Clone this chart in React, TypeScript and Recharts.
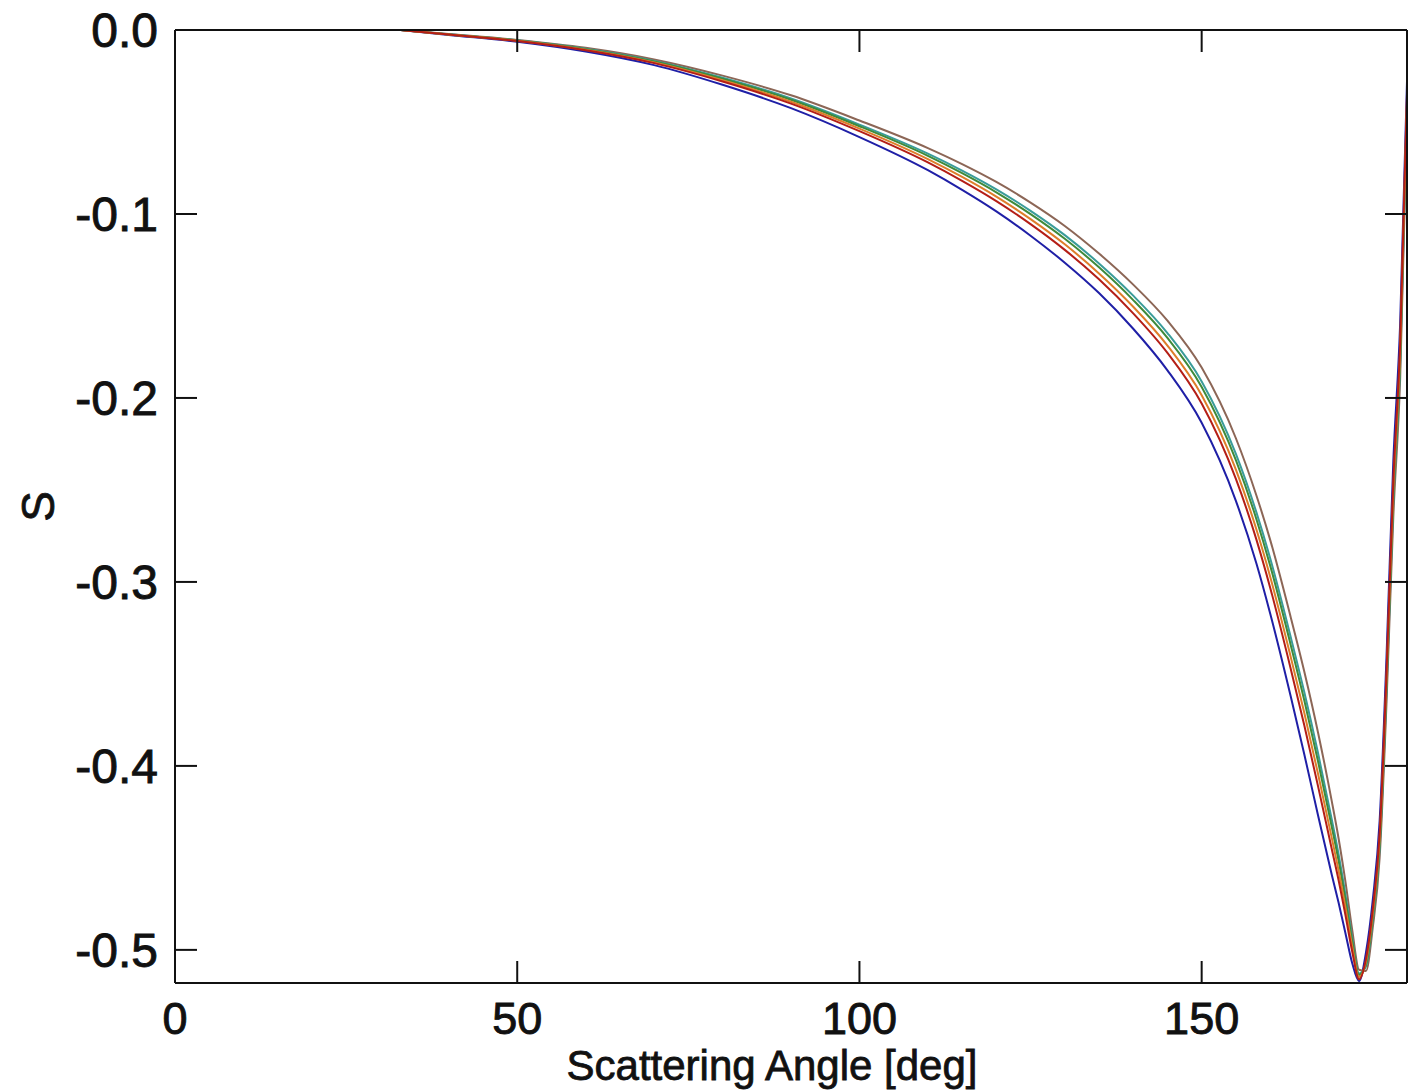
import { Line, LineChart, XAxis, YAxis } from "recharts";

// scattering angle grid [deg]
const angles = [33, 40, 50, 60, 70, 80, 90, 100, 110, 115, 120, 125, 130, 135, 140, 145, 150, 155, 158, 160, 163, 165, 167, 169, 170, 171, 172, 173, 174, 175, 176, 177, 178, 179, 180];

// S values, one array per curve
const sBlue = [0, -0.0027, -0.0064, -0.0117, -0.0191, -0.0298, -0.0425, -0.0582, -0.0762, -0.0869, -0.0986, -0.1118, -0.1265, -0.143, -0.1624, -0.185, -0.2135, -0.2559, -0.29, -0.317, -0.362, -0.3938, -0.4268, -0.459, -0.4743, -0.4908, -0.5073, -0.517, -0.5015, -0.4728, -0.43, -0.3413, -0.2345, -0.1595, -0.028];
const sRed = [0, -0.0025, -0.006, -0.011, -0.018, -0.028, -0.04, -0.055, -0.072, -0.082, -0.093, -0.1055, -0.1195, -0.1355, -0.154, -0.1755, -0.203, -0.244, -0.277, -0.303, -0.347, -0.378, -0.411, -0.445, -0.462, -0.481, -0.501, -0.516, -0.505, -0.478, -0.437, -0.35, -0.245, -0.17, -0.035];
const sOrange = [0, -0.0024, -0.0058, -0.0107, -0.0176, -0.0273, -0.039, -0.0536, -0.0702, -0.0799, -0.0906, -0.1028, -0.1165, -0.1323, -0.1504, -0.1715, -0.1985, -0.2389, -0.2715, -0.297, -0.3406, -0.3713, -0.4043, -0.439, -0.4568, -0.4768, -0.4983, -0.5148, -0.5065, -0.4803, -0.44, -0.3538, -0.2495, -0.1745, -0.038];
const sGreen = [0, -0.0024, -0.0057, -0.0104, -0.0171, -0.0265, -0.0379, -0.0523, -0.0684, -0.0778, -0.0882, -0.1001, -0.1135, -0.129, -0.1468, -0.1674, -0.194, -0.2338, -0.2659, -0.291, -0.3341, -0.3645, -0.3975, -0.433, -0.4515, -0.4726, -0.4956, -0.5136, -0.508, -0.4825, -0.443, -0.3575, -0.254, -0.179, -0.041];
const sTeal = [0, -0.0023, -0.0056, -0.0102, -0.0168, -0.026, -0.0372, -0.0514, -0.0672, -0.0764, -0.0866, -0.0983, -0.1115, -0.1269, -0.1444, -0.1647, -0.191, -0.2304, -0.2622, -0.287, -0.3298, -0.36, -0.393, -0.429, -0.448, -0.4698, -0.4938, -0.5128, -0.509, -0.484, -0.445, -0.36, -0.257, -0.182, -0.043];
const sBrown = [0, -0.0022, -0.0054, -0.0097, -0.016, -0.0248, -0.0355, -0.0492, -0.0642, -0.0729, -0.0826, -0.0938, -0.1065, -0.1215, -0.1384, -0.158, -0.1835, -0.2219, -0.253, -0.277, -0.319, -0.3488, -0.3818, -0.419, -0.4393, -0.4628, -0.4893, -0.5108, -0.5115, -0.4878, -0.45, -0.3663, -0.2645, -0.1895, -0.048];

const xTicks = [0, 50, 100, 150];
const yTicks = [0, -0.1, -0.2, -0.3, -0.4, -0.5];

const series = [
  { key: "blue", values: sBlue, color: "#1f1fa6" },
  { key: "brown", values: sBrown, color: "#8c6656" },
  { key: "teal", values: sTeal, color: "#3a9c9a" },
  { key: "green", values: sGreen, color: "#3f8a3a" },
  { key: "orange", values: sOrange, color: "#de7e2a" },
  { key: "red", values: sRed, color: "#b41e16" },
];

const data = angles.map((a, i) => {
  const row: Record<string, number> = { angle: a };
  for (const s of series) row[s.key] = s.values[i];
  return row;
});

const FONT = "'Liberation Sans', Arial, sans-serif";
const INK = "#111";
const TICK_LEN = 22;

function BottomTick({ x, y, payload }: any) {
  return (
    <g>
      <line x1={x} y1={y} x2={x} y2={y - TICK_LEN} stroke={INK} strokeWidth={2} />
      <text x={x} y={y + 51} textAnchor="middle" fontSize={45} fontFamily={FONT} fill={INK} stroke={INK} strokeWidth={0.9}>
        {payload.value}
      </text>
    </g>
  );
}

function TopTick({ x, y }: any) {
  return <line x1={x} y1={y} x2={x} y2={y + TICK_LEN} stroke={INK} strokeWidth={2} />;
}

function LeftTick({ x, y, payload }: any) {
  return (
    <g>
      <line x1={x} y1={y} x2={x + TICK_LEN} y2={y} stroke={INK} strokeWidth={2} />
      <text x={x - 17} y={y + 17} textAnchor="end" fontSize={48} fontFamily={FONT} fill={INK} stroke={INK} strokeWidth={0.9}>
        {Number(payload.value).toFixed(1)}
      </text>
    </g>
  );
}

function RightTick({ x, y }: any) {
  return <line x1={x} y1={y} x2={x - TICK_LEN} y2={y} stroke={INK} strokeWidth={2} />;
}

export default function App() {
  return (
    <div style={{ position: "absolute", left: 0, top: 0, background: "#fff" }}>
      <LineChart width={1422} height={1091} data={data} margin={{ top: 29, right: 14, bottom: 0, left: 0 }}>
        <XAxis
          dataKey="angle"
          type="number"
          domain={[0, 180]}
          ticks={xTicks}
          height={108}
          tickSize={0}
          tickMargin={0}
          tick={<BottomTick />}
          axisLine={{ stroke: INK, strokeWidth: 2 }}
          label={{
            content: ({ viewBox }: any) => (
              <text
                x={viewBox.x + viewBox.width / 2 - 19}
                y={1080}
                textAnchor="middle"
                fontSize={42}
                fontFamily={FONT}
                fill={INK}
                stroke={INK}
                strokeWidth={0.8}
              >
                Scattering Angle [deg]
              </text>
            ),
          }}
        />
        <XAxis
          xAxisId="top"
          dataKey="angle"
          orientation="top"
          type="number"
          domain={[0, 180]}
          ticks={xTicks}
          height={1}
          tickSize={0}
          tickMargin={0}
          tick={<TopTick />}
          axisLine={{ stroke: INK, strokeWidth: 2 }}
        />
        <YAxis
          type="number"
          domain={[-0.518, 0]}
          ticks={yTicks}
          width={175}
          tickSize={0}
          tickMargin={0}
          tick={<LeftTick />}
          axisLine={{ stroke: INK, strokeWidth: 2 }}
          label={{
            content: ({ viewBox }: any) => {
              const cy = viewBox.y + viewBox.height / 2;
              return (
                <text
                  x={54}
                  y={cy}
                  transform={`rotate(-90 54 ${cy})`}
                  textAnchor="middle"
                  fontSize={46}
                  fontFamily={FONT}
                  fill={INK}
                  stroke={INK}
                  strokeWidth={0.8}
                >
                  S
                </text>
              );
            },
          }}
        />
        <YAxis
          yAxisId="right"
          orientation="right"
          type="number"
          domain={[-0.518, 0]}
          ticks={yTicks}
          width={1}
          tickSize={0}
          tickMargin={0}
          tick={<RightTick />}
          axisLine={{ stroke: INK, strokeWidth: 2 }}
        />
        {/* invisible copy bound to the top/right axes so the frame gets drawn */}
        <Line
          xAxisId="top"
          yAxisId="right"
          dataKey="red"
          stroke="none"
          dot={false}
          activeDot={false}
          legendType="none"
          isAnimationActive={false}
        />
        {series.map((s) => (
          <Line
            key={s.key}
            dataKey={s.key}
            type="monotone"
            stroke={s.color}
            strokeWidth={2}
            dot={false}
            isAnimationActive={false}
          />
        ))}
      </LineChart>
    </div>
  );
}
